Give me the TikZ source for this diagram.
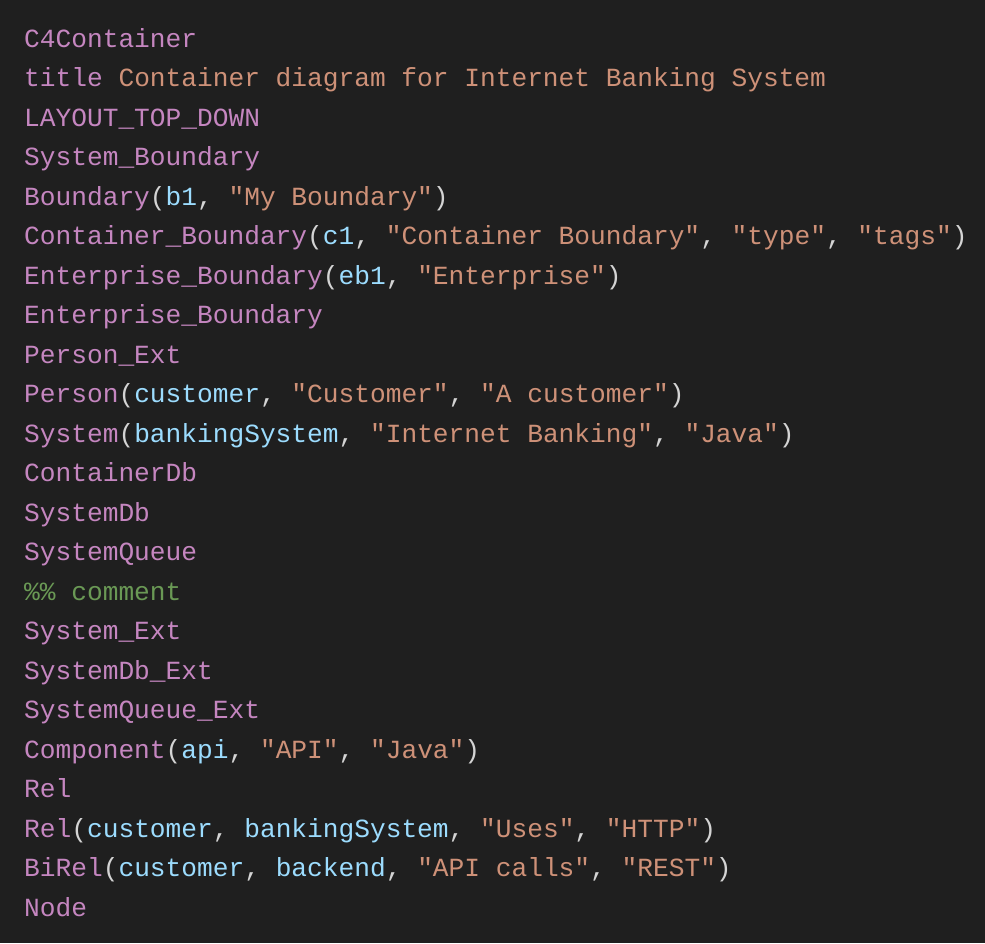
\documentclass[tikz,border=0pt]{standalone}
\usepackage{fontspec}
\setmonofont{Liberation Mono}
\definecolor{bgc}{HTML}{1F1F1F}
\definecolor{kwc}{HTML}{C586C0}
\definecolor{stc}{HTML}{CE9178}
\definecolor{idc}{HTML}{9CDCFE}
\definecolor{puc}{HTML}{D4D4D4}
\definecolor{cmc}{HTML}{6A9955}
\newcommand{\kw}[1]{\textcolor{kwc}{#1}}
\newcommand{\st}[1]{\textcolor{stc}{#1}}
\newcommand{\idn}[1]{\textcolor{idc}{#1}}
\newcommand{\cmt}[1]{\textcolor{cmc}{#1}}
\begin{document}
\begin{tikzpicture}[x=1pt,y=-1pt,
  codeline/.style={anchor=base west,inner sep=0pt,text=puc,font=\fontsize{26.2}{30}\ttfamily}]
\fill[bgc] (0,0) rectangle (985,943);
\useasboundingbox (0,0) rectangle (985,943);
\def\lx{24}
\node[codeline] (l1) at (\lx,47) {\kw{C4Container}};
\node[codeline] (l2) at (\lx,86.5) {\kw{title} \st{Container diagram for Internet Banking System}};
\node[codeline] (l3) at (\lx,126) {\kw{LAYOUT\_TOP\_DOWN}};
\node[codeline] (l4) at (\lx,165.5) {\kw{System\_Boundary}};
\node[codeline] (l5) at (\lx,205) {\kw{Boundary}(\idn{b1}, \st{"My Boundary"})};
\node[codeline] (l6) at (\lx,244.5) {\kw{Container\_Boundary}(\idn{c1}, \st{"Container Boundary"}, \st{"type"}, \st{"tags"})};
\node[codeline] (l7) at (\lx,284) {\kw{Enterprise\_Boundary}(\idn{eb1}, \st{"Enterprise"})};
\node[codeline] (l8) at (\lx,323.5) {\kw{Enterprise\_Boundary}};
\node[codeline] (l9) at (\lx,363) {\kw{Person\_Ext}};
\node[codeline] (l10) at (\lx,402.5) {\kw{Person}(\idn{customer}, \st{"Customer"}, \st{"A customer"})};
\node[codeline] (l11) at (\lx,442) {\kw{System}(\idn{bankingSystem}, \st{"Internet Banking"}, \st{"Java"})};
\node[codeline] (l12) at (\lx,481.5) {\kw{ContainerDb}};
\node[codeline] (l13) at (\lx,521) {\kw{SystemDb}};
\node[codeline] (l14) at (\lx,560.5) {\kw{SystemQueue}};
\node[codeline] (l15) at (\lx,600) {\cmt{\%\% comment}};
\node[codeline] (l16) at (\lx,639.5) {\kw{System\_Ext}};
\node[codeline] (l17) at (\lx,679) {\kw{SystemDb\_Ext}};
\node[codeline] (l18) at (\lx,718.5) {\kw{SystemQueue\_Ext}};
\node[codeline] (l19) at (\lx,758) {\kw{Component}(\idn{api}, \st{"API"}, \st{"Java"})};
\node[codeline] (l20) at (\lx,797.5) {\kw{Rel}};
\node[codeline] (l21) at (\lx,837) {\kw{Rel}(\idn{customer}, \idn{bankingSystem}, \st{"Uses"}, \st{"HTTP"})};
\node[codeline] (l22) at (\lx,876.5) {\kw{BiRel}(\idn{customer}, \idn{backend}, \st{"API calls"}, \st{"REST"})};
\node[codeline] (l23) at (\lx,916) {\kw{Node}};
\end{tikzpicture}
\end{document}
